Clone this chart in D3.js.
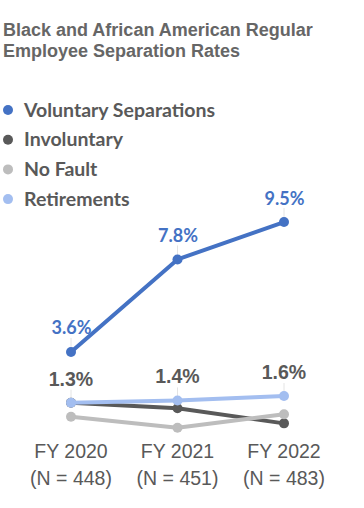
<!DOCTYPE html>
<html>
<head>
<meta charset="utf-8">
<script src="https://cdn.jsdelivr.net/npm/d3@7"></script>
<style>
  html, body { margin: 0; padding: 0; background: #fff; }
  svg { display: block; }
</style>
</head>
<body>
<svg id="chart" width="364" height="508"></svg>
<script>
const titleLines = ["Black and African American Regular", "Employee Separation Rates"];
const years = ["FY 2020", "FY 2021", "FY 2022"];
const nLabels = ["(N = 448)", "(N = 451)", "(N = 483)"];
const seriesNames = ["Voluntary Separations", "Involuntary", "No Fault", "Retirements"];
const voluntary = [3.6, 7.8, 9.5];
const involuntary = [1.3, 1.05, 0.36];
const noFault = [0.66, 0.16, 0.77];
const retirements = [1.3, 1.4, 1.6];
const seriesColors = ["#4472C4", "#595959", "#BDBDBD", "#A3BEF0"];

const svg = d3.select("#chart");

// Title
svg.append("g").selectAll("text").data(titleLines).join("text")
  .attr("x", 3).attr("y", (d, i) => 35.5 + i * 21.5)
  .attr("font-family", "'Liberation Sans', Arial, sans-serif")
  .attr("font-weight", "bold").attr("font-size", 18)
  .attr("fill", "#666666")
  .text(d => d);

// Legend
const legend = svg.append("g");
const lg = legend.selectAll("g").data(seriesNames).join("g")
  .attr("transform", (d, i) => `translate(0, ${110 + i * 29.7})`);
lg.append("circle").attr("cx", 8).attr("cy", 0).attr("r", 5)
  .attr("fill", (d, i) => seriesColors[i]);
lg.append("text").attr("x", 24).attr("y", 6.5)
  .attr("font-family", "Lato, 'Open Sans', sans-serif")
  .attr("font-weight", "bold").attr("font-size", 19.5)
  .attr("fill", "#595959")
  .text(d => d);

// Scales
const x = d3.scalePoint().domain(years).range([71, 284]);
const y = d3.scaleLinear().domain([0, 10]).range([431.3, 211]);

const series = [
  { name: seriesNames[1], values: involuntary, color: seriesColors[1] },
  { name: seriesNames[2], values: noFault, color: seriesColors[2] },
  { name: seriesNames[3], values: retirements, color: seriesColors[3] },
  { name: seriesNames[0], values: voluntary, color: seriesColors[0] }
];

// Leader lines
const leaders = svg.append("g");
years.forEach((yr, i) => {
  leaders.append("line")
    .attr("x1", x(yr)).attr("x2", x(yr))
    .attr("y1", y(voluntary[i]) - 14).attr("y2", y(voluntary[i]) - 4)
    .attr("stroke", "#e4e4e4").attr("stroke-width", 1);
  leaders.append("line")
    .attr("x1", x(yr)).attr("x2", x(yr))
    .attr("y1", y(retirements[i]) - 13).attr("y2", y(retirements[i]) - 4)
    .attr("stroke", "#e4e4e4").attr("stroke-width", 1);
});

const line = d3.line().x((d, i) => x(years[i])).y(d => y(d));
const sg = svg.append("g").selectAll("g").data(series).join("g");
sg.append("path")
  .attr("d", d => line(d.values))
  .attr("fill", "none")
  .attr("stroke", d => d.color)
  .attr("stroke-width", 4)
  .attr("stroke-linejoin", "round");
sg.selectAll("circle").data(d => d.values.map(v => ({ v, c: d.color }))).join("circle")
  .attr("cx", (d, i) => x(years[i]))
  .attr("cy", d => y(d.v))
  .attr("r", 5)
  .attr("fill", d => d.c);

// Data labels
svg.append("g").selectAll("text").data(voluntary).join("text")
  .attr("x", (d, i) => x(years[i]) + 0.5)
  .attr("y", d => y(d) - 17.5)
  .attr("text-anchor", "middle")
  .attr("font-family", "Lato, 'Open Sans', sans-serif")
  .attr("font-weight", "bold").attr("font-size", 18)
  .attr("fill", "#4472C4")
  .text(d => d.toFixed(1) + "%");

svg.append("g").selectAll("text").data(retirements).join("text")
  .attr("x", (d, i) => x(years[i]))
  .attr("y", d => y(d) - 17)
  .attr("text-anchor", "middle")
  .attr("font-family", "'Liberation Sans', Arial, sans-serif")
  .attr("font-weight", "bold").attr("font-size", 19.5)
  .attr("fill", "#595959")
  .text(d => d.toFixed(1) + "%");

// X axis labels
const xa = svg.append("g").selectAll("text").data(years).join("text")
  .attr("x", d => x(d))
  .attr("text-anchor", "middle")
  .attr("font-family", "'Liberation Sans', Arial, sans-serif")
  .attr("font-size", 19.5)
  .attr("fill", "#595959");
xa.append("tspan").attr("x", d => x(d)).attr("y", 458).text(d => d);
xa.append("tspan").attr("x", d => x(d)).attr("y", 485).text((d, i) => nLabels[i]);
</script>
</body>
</html>
